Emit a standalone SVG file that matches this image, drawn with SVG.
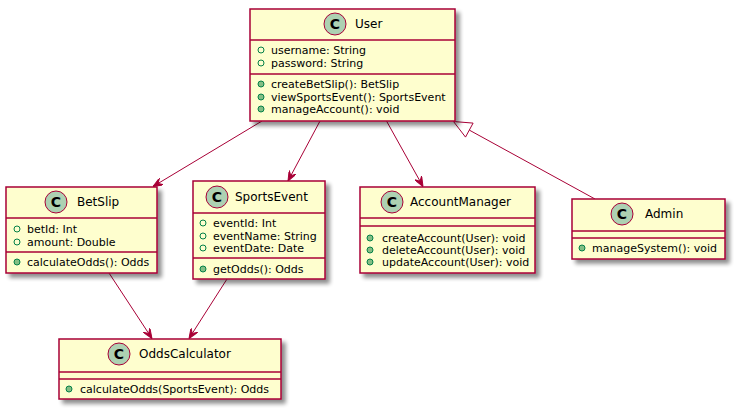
<svg xmlns="http://www.w3.org/2000/svg" width="735" height="409" viewBox="0 0 735 409">
<defs>
<filter id="sh" x="-10%" y="-10%" width="130%" height="140%">
<feGaussianBlur in="SourceAlpha" stdDeviation="2"/>
<feOffset dx="4" dy="4" result="b"/>
<feComponentTransfer><feFuncA type="linear" slope="0.45"/></feComponentTransfer>
<feMerge><feMergeNode/><feMergeNode in="SourceGraphic"/></feMerge>
</filter>
<marker id="arr" viewBox="0 0 10 8" refX="10" refY="4" markerWidth="10" markerHeight="8" markerUnits="userSpaceOnUse" orient="auto">
<path d="M0,0 L10,4 L0,8 L4,4 Z" fill="#A80036" stroke="#A80036" stroke-width="1"/>
</marker>
</defs>
<style>
.box{fill:#FEFECE;stroke:#A80036;stroke-width:1.5}
.sep{stroke:#A80036;stroke-width:1.5}
.ci{fill:#ADD1B2;stroke:#A80036;stroke-width:1}
.cl{font-family:"DejaVu Sans Bold","DejaVu Sans",sans-serif;font-weight:bold;font-size:14px;fill:#000;text-anchor:middle}
.nm{font-family:"DejaVu Sans",sans-serif;font-size:12px;fill:#000}
.mb{font-family:"DejaVu Sans",sans-serif;font-size:11px;fill:#000}
.fa{fill:none;stroke:#038048;stroke-width:1}
.fm{fill:#84BE84;stroke:#038048;stroke-width:1}
.ln{fill:none;stroke:#A80036;stroke-width:1}
</style>

<g id="connectors">
<line class="ln" x1="262" y1="121" x2="153" y2="186.5" marker-end="url(#arr)"/>
<line class="ln" x1="320" y1="121" x2="288" y2="181" marker-end="url(#arr)"/>
<line class="ln" x1="386.5" y1="121" x2="423" y2="186.5" marker-end="url(#arr)"/>
<line class="ln" x1="109" y1="273" x2="152" y2="338.5" marker-end="url(#arr)"/>
<line class="ln" x1="227" y1="279" x2="189" y2="338.5" marker-end="url(#arr)"/>
<line class="ln" x1="595" y1="199" x2="469.3" y2="130.1"/>
<polygon class="ln" points="453.5,121.5 473.1,123.1 465.5,137.1"/>
</g>

<g id="User">
<rect class="box" x="250" y="9" width="205" height="112" filter="url(#sh)"/>
<line class="sep" x1="250" y1="40" x2="455" y2="40"/>
<line class="sep" x1="250" y1="74" x2="455" y2="74"/>
<circle class="ci" cx="335" cy="24" r="11"/>
<text class="cl" x="335" y="29">C</text>
<text class="nm" x="355" y="28">User</text>
<circle class="fa" cx="261" cy="50" r="3"/>
<text class="mb" x="271" y="54">username: String</text>
<circle class="fa" cx="261" cy="63" r="3"/>
<text class="mb" x="271" y="67">password: String</text>
<circle class="fm" cx="261" cy="84" r="3"/>
<text class="mb" x="271" y="88">createBetSlip(): BetSlip</text>
<circle class="fm" cx="261" cy="97" r="3"/>
<text class="mb" x="271" y="101">viewSportsEvent(): SportsEvent</text>
<circle class="fm" cx="261" cy="109" r="3"/>
<text class="mb" x="271" y="113">manageAccount(): void</text>
</g>

<g id="BetSlip">
<rect class="box" x="6" y="187" width="151" height="86" filter="url(#sh)"/>
<line class="sep" x1="6" y1="218" x2="157" y2="218"/>
<line class="sep" x1="6" y1="252" x2="157" y2="252"/>
<circle class="ci" cx="56" cy="202" r="11"/>
<text class="cl" x="56" y="207">C</text>
<text class="nm" x="77" y="206">BetSlip</text>
<circle class="fa" cx="17" cy="229" r="3"/>
<text class="mb" x="27" y="233">betId: Int</text>
<circle class="fa" cx="17" cy="242" r="3"/>
<text class="mb" x="27" y="246">amount: Double</text>
<circle class="fm" cx="17" cy="262" r="3"/>
<text class="mb" x="27" y="266">calculateOdds(): Odds</text>
</g>

<g id="SportsEvent">
<rect class="box" x="193" y="181" width="132" height="98" filter="url(#sh)"/>
<line class="sep" x1="193" y1="213" x2="325" y2="213"/>
<line class="sep" x1="193" y1="258" x2="325" y2="258"/>
<circle class="ci" cx="217" cy="197" r="11"/>
<text class="cl" x="217" y="202">C</text>
<text class="nm" x="235" y="201">SportsEvent</text>
<circle class="fa" cx="203" cy="223" r="3"/>
<text class="mb" x="213" y="227">eventId: Int</text>
<circle class="fa" cx="203" cy="236" r="3"/>
<text class="mb" x="213" y="240">eventName: String</text>
<circle class="fa" cx="203" cy="248" r="3"/>
<text class="mb" x="213" y="252">eventDate: Date</text>
<circle class="fm" cx="203" cy="269" r="3"/>
<text class="mb" x="213" y="273">getOdds(): Odds</text>
</g>

<g id="AccountManager">
<rect class="box" x="360" y="187" width="175" height="86" filter="url(#sh)"/>
<line class="sep" x1="360" y1="218" x2="535" y2="218"/>
<line class="sep" x1="360" y1="226" x2="535" y2="226"/>
<circle class="ci" cx="392" cy="202" r="11"/>
<text class="cl" x="392" y="207">C</text>
<text class="nm" x="410" y="206">AccountManager</text>
<circle class="fm" cx="370" cy="238" r="3"/>
<text class="mb" x="382" y="242">createAccount(User): void</text>
<circle class="fm" cx="370" cy="250" r="3"/>
<text class="mb" x="382" y="254">deleteAccount(User): void</text>
<circle class="fm" cx="370" cy="262" r="3"/>
<text class="mb" x="382" y="266">updateAccount(User): void</text>
</g>

<g id="Admin">
<rect class="box" x="572" y="199" width="153" height="60" filter="url(#sh)"/>
<line class="sep" x1="572" y1="231" x2="725" y2="231"/>
<line class="sep" x1="572" y1="238" x2="725" y2="238"/>
<circle class="ci" cx="622" cy="214" r="11"/>
<text class="cl" x="622" y="219">C</text>
<text class="nm" x="645" y="218">Admin</text>
<circle class="fm" cx="582" cy="248" r="3"/>
<text class="mb" x="592" y="252">manageSystem(): void</text>
</g>

<g id="OddsCalculator">
<rect class="box" x="59" y="339" width="222" height="60" filter="url(#sh)"/>
<line class="sep" x1="59" y1="372" x2="281" y2="372"/>
<line class="sep" x1="59" y1="379" x2="281" y2="379"/>
<circle class="ci" cx="119" cy="354" r="11"/>
<text class="cl" x="119" y="359">C</text>
<text class="nm" x="139" y="358">OddsCalculator</text>
<circle class="fm" cx="69" cy="389" r="3"/>
<text class="mb" x="80" y="393">calculateOdds(SportsEvent): Odds</text>
</g>
</svg>
